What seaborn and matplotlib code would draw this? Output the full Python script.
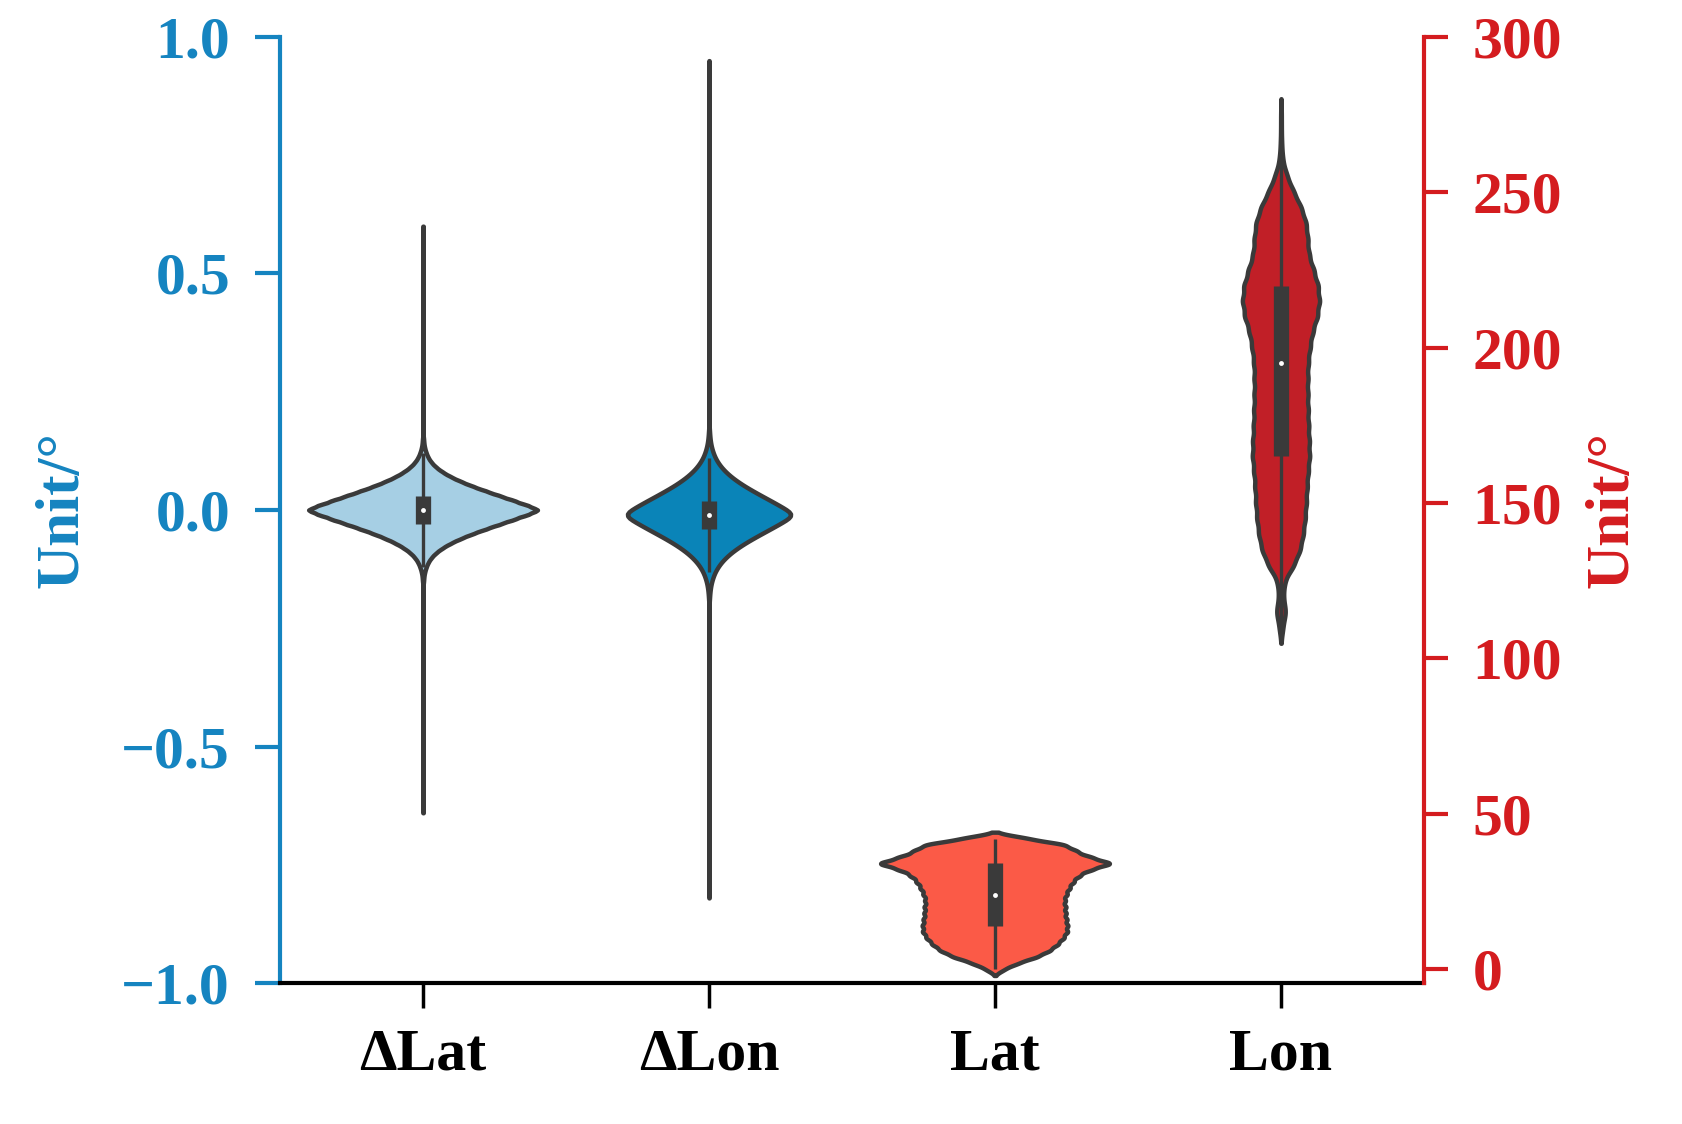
import numpy as np
import pandas as pd
import seaborn as sns
import matplotlib.pyplot as plt

# order of the violins along the shared x axis
categories = ["ΔLat", "ΔLon", "Lat", "Lon"]

# histograms: sample value -> number of samples
dlat_vals = [-0.64, -0.20, -0.17, -0.15, -0.14, -0.13, -0.12, -0.11, -0.10, -0.09, -0.08,
             -0.07, -0.06, -0.05, -0.04, -0.03, -0.02, -0.01, 0.00, 0.01, 0.02, 0.03,
             0.04, 0.05, 0.06, 0.07, 0.08, 0.09, 0.10, 0.11, 0.12, 0.13, 0.14, 0.15,
             0.17, 0.20, 0.60]
dlat_counts = [1, 1, 1, 2, 3, 6, 11, 18, 29, 45, 67,
               95, 130, 170, 215, 262, 310, 355, 400, 355, 310, 262,
               215, 170, 130, 95, 67, 45, 29, 18, 11, 6, 3, 2,
               1, 1, 1]

dlon_vals = [-0.82, -0.30, -0.24, -0.19, -0.18, -0.17, -0.16, -0.15, -0.14, -0.13, -0.12,
             -0.11, -0.10, -0.09, -0.08, -0.07, -0.06, -0.05, -0.04, -0.03, -0.02, -0.01,
             0.00, 0.01, 0.02, 0.03, 0.04, 0.05, 0.06, 0.07, 0.08, 0.09, 0.10, 0.11,
             0.12, 0.13, 0.14, 0.15, 0.16, 0.17, 0.22, 0.28, 0.95]
dlon_counts = [1, 1, 1, 2, 3, 5, 8, 13, 20, 29, 42,
               58, 79, 104, 134, 168, 206, 246, 287, 327, 365, 400,
               365, 327, 287, 246, 206, 168, 134, 104, 79, 58, 42, 29,
               20, 13, 8, 5, 3, 2, 1, 1, 1]

lat_vals = [0, 2, 4, 6, 8, 10, 12, 14, 16, 18, 20, 22, 24, 26, 28, 30, 32, 34, 36, 38, 40, 42]
lat_counts = [10, 25, 45, 58, 66, 72, 76, 76, 75, 74, 74, 73, 75, 78, 82, 88, 100, 125, 100, 85, 75, 35]

lon_vals = [110, 115, 120, 125, 130, 135, 140, 145, 150, 155, 160, 165, 170, 175, 180, 185,
            190, 195, 200, 205, 210, 215, 220, 225, 230, 235, 240, 245, 250, 255, 260, 265,
            270, 275]
lon_counts = [5, 13, 6, 10, 35, 52, 60, 65, 68, 70, 73, 77, 76, 74, 73, 72,
              72, 73, 78, 85, 98, 104, 100, 88, 75, 72, 68, 55, 35, 17, 5, 2,
              1, 1]

left_ticks = [-1.0, -0.5, 0.0, 0.5, 1.0]
right_ticks = [0, 50, 100, 150, 200, 250, 300]

# styling per violin
fills = {"ΔLat": "#a6cfe4", "ΔLon": "#0a84b8", "Lat": "#fb5a47", "Lon": "#c11f27"}
widths = {"ΔLat": 0.8, "ΔLon": 0.57, "Lat": 0.8, "Lon": 0.27}
bw_adj = {"ΔLat": 0.6, "ΔLon": 0.75, "Lat": 0.4, "Lon": 0.33}
cuts = {"ΔLat": 0, "ΔLon": 0, "Lat": 2, "Lon": 2}

blue = "#1584c0"
red = "#d41c1f"
line_col = "#3a3a3a"

df = pd.concat([
    pd.DataFrame({"var": name, "value": np.repeat(vals, counts)})
    for name, vals, counts in [("ΔLat", dlat_vals, dlat_counts), ("ΔLon", dlon_vals, dlon_counts),
                               ("Lat", lat_vals, lat_counts), ("Lon", lon_vals, lon_counts)]
], ignore_index=True)

sns.set_style("ticks")
plt.rcParams["font.family"] = ["Liberation Serif", "DejaVu Serif"]
plt.rcParams["font.weight"] = "bold"
plt.rcParams["axes.unicode_minus"] = True

fig = plt.figure(figsize=(16.83, 11.24), dpi=100)
ax = fig.add_axes([0.1664, 0.1254, 0.6797, 0.8417])
ax2 = ax.twinx()

for name in categories:
    target = ax if name.startswith("Δ") else ax2
    sns.violinplot(data=df[df["var"] == name], x="var", y="value", order=categories,
                   color=fills[name], saturation=1, width=widths[name],
                   bw_adjust=bw_adj[name], cut=cuts[name], gridsize=400,
                   inner="box",
                   inner_kws=dict(box_width=11, whis_width=2.4, marker="o",
                                  solid_capstyle="butt"),
                   linewidth=3.2, linecolor=line_col, ax=target)

# small white median dots like the original
for line in ax.lines + ax2.lines:
    if line.get_marker() == "o":
        line.set_markersize(3.5)
        line.set_markeredgewidth(0)

ax.set_xlim(-0.5, 3.5)
ax.set_ylim(-1.0, 1.0)
ax2.set_ylim(-4.5, 300)
ax.set_yticks(left_ticks)
ax2.set_yticks(right_ticks)
ax.set_xticks(range(len(categories)))
ax.set_xticklabels(categories)

ax.set_xlabel("")
ax2.set_xlabel("")
ax.set_ylabel("Unit/°", color=blue, fontsize=44, fontweight="bold", labelpad=22)
ax2.set_ylabel("Unit/°", color=red, fontsize=44, fontweight="bold", labelpad=16)

for s in ["top", "right"]:
    ax.spines[s].set_visible(False)
for s in ["top", "left", "bottom"]:
    ax2.spines[s].set_visible(False)
ax.spines["left"].set_color(blue)
ax.spines["left"].set_linewidth(3)
ax.spines["bottom"].set_color("black")
ax.spines["bottom"].set_linewidth(3)
ax2.spines["right"].set_color(red)
ax2.spines["right"].set_linewidth(3)

ax.tick_params(axis="y", colors=blue, labelcolor=blue, length=18, width=3, pad=18, labelsize=43)
ax.tick_params(axis="x", colors="black", length=18, width=2.5, pad=15, labelsize=43)
ax2.tick_params(axis="y", colors=red, labelcolor=red, length=17, width=3, pad=18, labelsize=43)
for lbl in ax.get_xticklabels() + ax.get_yticklabels() + ax2.get_yticklabels():
    lbl.set_fontweight("bold")

fig.savefig("out.png", dpi=100)
